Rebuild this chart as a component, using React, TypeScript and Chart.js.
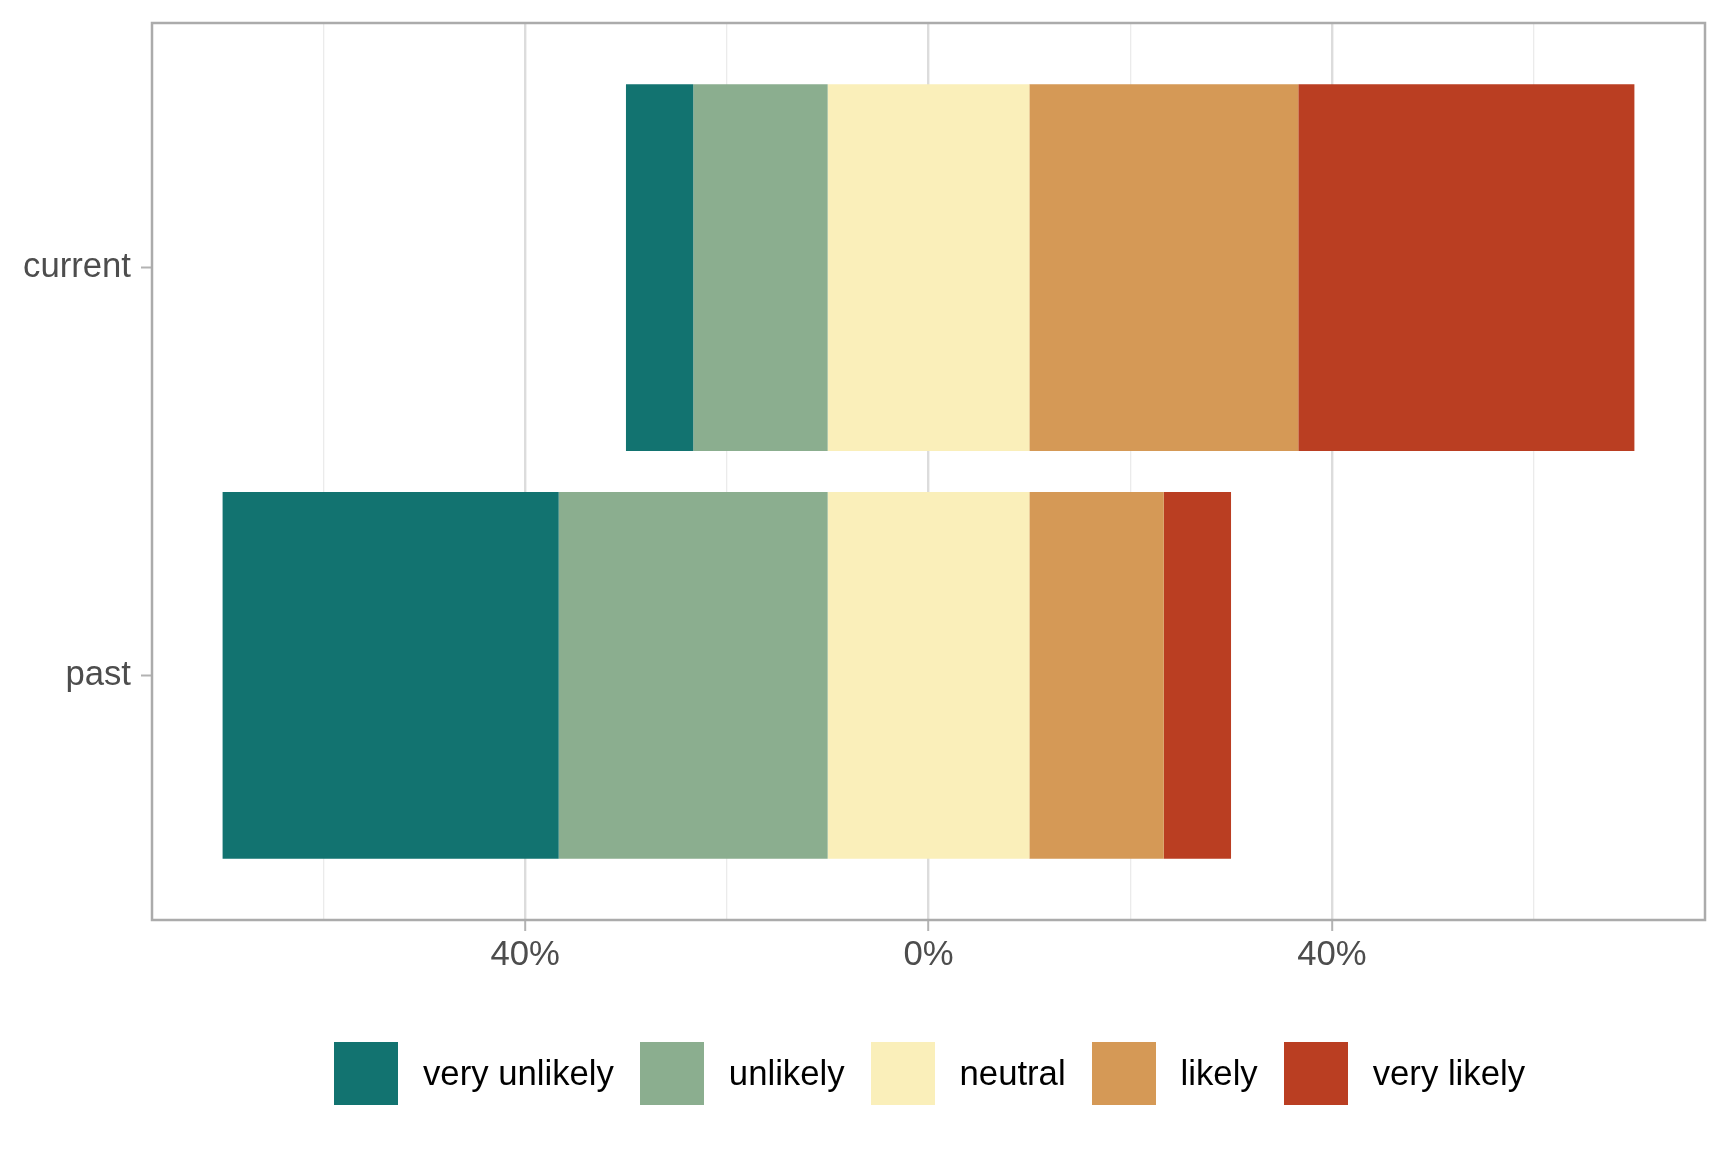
import React, { useEffect, useRef } from 'react';
import { Chart, registerables } from 'chart.js';

Chart.register(...registerables);

const categories = ['current', 'past'];
const categoryPositions = [2, 1];
const levels = ['very unlikely', 'unlikely', 'neutral', 'likely', 'very likely'];
const currentPct = [6.67, 13.33, 20, 26.67, 33.33];
const pastPct = [33.33, 26.67, 20, 13.33, 6.67];
const colors = ['#127370', '#8BAE8F', '#FAEFBA', '#D59956', '#BA3E22'];
const xGridTicks = [-60, -40, -20, 0, 20, 40, 60];
const xLabeledTicks = [-40, 0, 40];

const FONT = '"Liberation Sans", Arial, Helvetica, sans-serif';

function spans(pcts: number[]): [number, number][] {
  // diverging: neutral centred on zero
  let cur = -(pcts[2] / 2) - pcts[1] - pcts[0];
  const out: [number, number][] = [];
  for (const p of pcts) {
    out.push([cur, cur + p]);
    cur += p;
  }
  return out;
}

const borderPlugin = {
  id: 'panelBorder',
  afterDatasetsDraw(chart: any) {
    const { ctx, chartArea } = chart;
    ctx.save();
    ctx.strokeStyle = '#ababab';
    ctx.lineWidth = 2.5;
    ctx.strokeRect(chartArea.left, chartArea.top, chartArea.right - chartArea.left, chartArea.bottom - chartArea.top);
    ctx.restore();
  },
};

export default function App() {
  const canvasRef = useRef<HTMLCanvasElement | null>(null);

  useEffect(() => {
    document.body.style.margin = '0';
    const curSpans = spans(currentPct);
    const pastSpans = spans(pastPct);
    const seriesSpans = [curSpans, pastSpans];

    const datasets = levels.map((lvl, i) => ({
      label: lvl,
      data: categories.map((_, c) => ({ x: seriesSpans[c][i], y: categoryPositions[c] })),
      backgroundColor: colors[i],
      borderWidth: 0,
      grouped: false,
      barPercentage: 0.9,
      categoryPercentage: 1,
    }));

    const isMajor = (v: number) => xLabeledTicks.includes(v);

    const chart = new Chart(canvasRef.current as HTMLCanvasElement, {
      type: 'bar',
      data: { datasets } as any,
      plugins: [borderPlugin],
      options: {
        indexAxis: 'y',
        animation: false,
        responsive: false,
        maintainAspectRatio: false,
        devicePixelRatio: 1,
        layout: { padding: { top: 23, right: 23, left: 0, bottom: 0 } },
        plugins: {
          legend: { display: false },
          tooltip: { enabled: false },
        },
        scales: {
          x: {
            type: 'linear',
            min: -77,
            max: 77,
            offset: false,
            afterBuildTicks: (s: any) => {
              s.ticks = xGridTicks.map((v) => ({ value: v }));
            },
            afterFit: (s: any) => {
              s.height = 232;
              s.paddingLeft = 0;
              s.paddingRight = 0;
            },
            border: { display: false },
            grid: {
              offset: false,
              color: (ctx: any) => (isMajor(ctx.tick?.value) ? '#dcdcdc' : '#ebebeb'),
              lineWidth: (ctx: any) => (isMajor(ctx.tick?.value) ? 2.4 : 1.3),
              tickColor: (ctx: any) => (isMajor(ctx.tick?.value) ? '#b3b3b3' : 'rgba(0,0,0,0)'),
              tickLength: 11,
              tickWidth: 2,
            },
            ticks: {
              autoSkip: false,
              maxRotation: 0,
              padding: 4,
              color: '#4d4d4d',
              font: { family: FONT, size: 34.7 },
              callback: (v: any) => (xLabeledTicks.includes(v) ? `${Math.abs(v)}%` : ''),
            },
          },
          y: {
            type: 'linear',
            min: 0.4,
            max: 2.6,
            offset: false,
            afterBuildTicks: (s: any) => {
              s.ticks = categoryPositions.map((v) => ({ value: v }));
            },
            afterFit: (s: any) => {
              s.width = 152;
              s.paddingTop = 0;
              s.paddingBottom = 0;
            },
            border: { display: false },
            grid: {
              offset: false,
              drawOnChartArea: false,
              tickLength: 11,
              tickWidth: 2,
              tickColor: '#b3b3b3',
            },
            ticks: {
              autoSkip: false,
              padding: 10,
              color: '#4d4d4d',
              font: { family: FONT, size: 34.7 },
              callback: (v: any) => {
                const idx = categoryPositions.indexOf(v);
                return idx >= 0 ? categories[idx] : '';
              },
            },
          },
        },
      } as any,
    });
    return () => chart.destroy();
  }, []);

  return (
    <div style={{ position: 'relative', width: 1728, height: 1152, background: '#fff', overflow: 'hidden' }}>
      <canvas ref={canvasRef} width={1728} height={1152} style={{ width: 1728, height: 1152, display: 'block' }} />
      <div
        style={{
          position: 'absolute',
          top: 1042,
          left: 334,
          display: 'flex',
          alignItems: 'center',
          fontFamily: FONT,
          fontSize: 34.7,
          color: '#000',
          whiteSpace: 'nowrap',
        }}
      >
        {levels.map((lvl, i) => (
          <div key={lvl} style={{ display: 'flex', alignItems: 'center', marginRight: i < levels.length - 1 ? 26 : 0 }}>
            <div style={{ width: 64, height: 63, background: colors[i], marginRight: 25 }} />
            <span>{lvl}</span>
          </div>
        ))}
      </div>
    </div>
  );
}
